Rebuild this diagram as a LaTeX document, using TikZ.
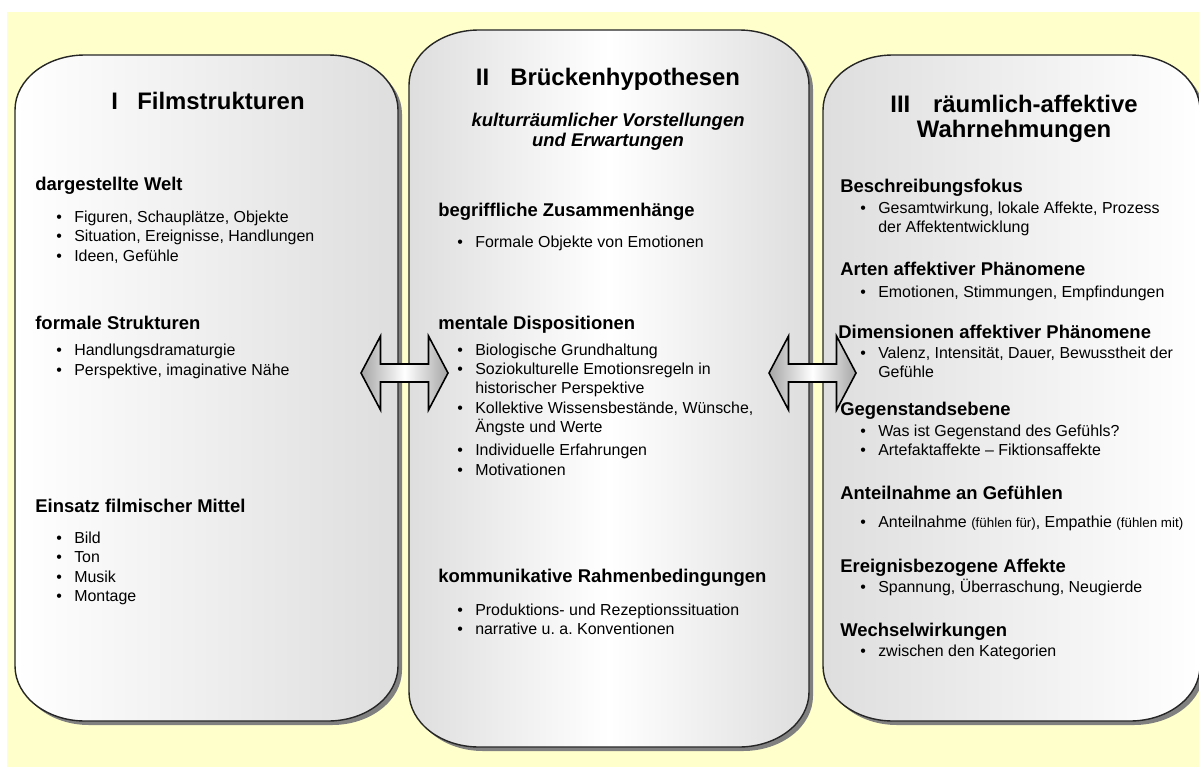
\documentclass[tikz,border=0pt]{standalone}
\usepackage{fontspec}
\setmainfont{Liberation Sans}
\frenchspacing
\definecolor{paper}{RGB}{255,255,204}
\colorlet{panelgrey}{black!13}

\newcommand\titlefont{\fontsize{13.6}{14.2}\selectfont\bfseries}
\newcommand\headfont{\fontsize{10.5}{12.5}\selectfont\bfseries}
\newcommand\subfont{\fontsize{10.5}{11.3}\selectfont\bfseries\itshape}
\newcommand\bodyfont{\fontsize{9.07}{11.05}\selectfont}
\newcommand\smallfont{\fontsize{7.6}{9}\selectfont}
\newcommand\bl{\makebox[10.2pt][l]{\textbullet}}
\newcommand\cont{\hspace*{10.2pt}}
\newcommand\panelpath[4]{(#1,#2+\ry) arc[start angle=180,end angle=270,x radius=\rx,y radius=\ry]
  -- (#3-\rx,#2) arc[start angle=270,end angle=360,x radius=\rx,y radius=\ry]
  -- (#3,#4-\ry) arc[start angle=0,end angle=90,x radius=\rx,y radius=\ry]
  -- (#1+\rx,#4) arc[start angle=90,end angle=180,x radius=\rx,y radius=\ry] -- cycle}

\tikzset{
  pane/.style={draw=black!85,line width=0.8pt},
  drop/.style={fill=black!50,shift={(4,4)}},
  paneltitle/.style={anchor=base,inner sep=0pt,align=center,font=\titlefont},
  subline/.style={anchor=base,inner sep=0pt,align=center,font=\subfont},
  headline/.style={anchor=base west,inner sep=0pt,font=\headfont},
  % multi-line nodes: base = baseline of the last line
  itemlist/.style={anchor=base west,inner sep=0pt,align=left,font=\bodyfont},
  twoway/.style={draw=black,line width=0.9pt,left color=black!35,right color=black!35,middle color=white}
}

\begin{document}
\begin{tikzpicture}[x=0.02cm,y=-0.02cm]
  \pgfmathsetmacro{\rx}{70};
  \pgfmathsetmacro{\ry}{55};
  %
  \useasboundingbox (0,0) rectangle (1199,767);
  \fill[paper] (7,12) rectangle (1199,767);
  % panels
  \fill[drop] \panelpath{15}{55}{398}{721};
  \draw[pane,left color=white,right color=panelgrey] \panelpath{15}{55}{398}{721};
  \fill[drop] \panelpath{409}{30}{809}{747};
  \draw[pane,left color=panelgrey,right color=panelgrey,middle color=white] \panelpath{409}{30}{809}{747};
  \fill[drop] \panelpath{823}{55}{1200}{721};
  \draw[pane,left color=panelgrey,right color=white] \panelpath{823}{55}{1200}{721};
  % titles
  \node[paneltitle] (titleI) at (208,110) {I\hspace{11pt}Filmstrukturen};
  \node[paneltitle] (titleII) at (608,86) {II\hspace{12pt}Brückenhypothesen};
  \node[subline] (subII) at (608,146) {kulturräumlicher Vorstellungen\\und Erwartungen};
  \node[paneltitle] (titleIII) at (1014,137) {III\hspace{13pt}räumlich-affektive\\Wahrnehmungen};
  % I
  \node[headline] (weltH) at (35,190) {dargestellte Welt};
  \node[itemlist] (weltL) at (56,261) {\bl Figuren, Schauplätze, Objekte\\\bl Situation, Ereignisse, Handlungen\\\bl Ideen, Gefühle};
  \node[headline] (formH) at (35,329) {formale Strukturen};
  \node[itemlist] (formL) at (56,375) {\bl Handlungsdramaturgie\\\bl Perspektive, imaginative Nähe};
  \node[headline] (mittelH) at (35,512) {Einsatz filmischer Mittel};
  \node[itemlist] (mittelL) at (56,601.5) {\bl Bild\\\bl Ton\\\bl Musik\\\bl Montage};
  % II
  \node[headline] (begrH) at (438,216) {begriffliche Zusammenhänge};
  \node[itemlist] (begrL) at (457,247) {\bl Formale Objekte von Emotionen};
  \node[headline] (mentH) at (438,329) {mentale Dispositionen};
  \node[itemlist] (mentL) at (457,475) {\bl Biologische Grundhaltung\\\bl Soziokulturelle Emotionsregeln in\\\cont historischer Perspektive\\\bl Kollektive Wissensbestände, Wünsche,\\\cont Ängste und Werte\\[2pt]\bl Individuelle Erfahrungen\\\bl Motivationen};
  \node[headline] (kommH) at (438,582) {kommunikative Rahmenbedingungen};
  \node[itemlist] (kommL) at (457,634.5) {\bl Produktions- und Rezeptionssituation\\\bl narrative u. a. Konventionen};
  % III
  \node[headline] (fokusH) at (840,192) {Beschreibungsfokus};
  \node[itemlist] (fokusL) at (860,232.5) {\bl Gesamtwirkung, lokale Affekte, Prozess\\\cont der Affektentwicklung};
  \node[headline] (artenH) at (840,275) {Arten affektiver Phänomene};
  \node[itemlist] (artenL) at (860,297) {\bl Emotionen, Stimmungen, Empfindungen};
  \node[headline] (dimH) at (838,338) {Dimensionen affektiver Phänomene};
  \node[itemlist] (dimL) at (860,377.5) {\bl Valenz, Intensität, Dauer, Bewusstheit der\\\cont Gefühle};
  \node[headline] (gegH) at (840,415) {Gegenstandsebene};
  \node[itemlist] (gegL) at (860,455.5) {\bl Was ist Gegenstand des Gefühls?\\\bl Artefaktaffekte – Fiktionsaffekte};
  \node[headline] (anteilH) at (840,499) {Anteilnahme an Gefühlen};
  \node[itemlist] (anteilL) at (860,527) {\bl Anteilnahme {\smallfont(fühlen für)}, Empathie {\smallfont(fühlen mit)}};
  \node[headline] (ereigH) at (840,572) {Ereignisbezogene Affekte};
  \node[itemlist] (ereigL) at (860,592) {\bl Spannung, Überraschung, Neugierde};
  \node[headline] (wechselH) at (840,636) {Wechselwirkungen};
  \node[itemlist] (wechselL) at (860,656) {\bl zwischen den Kategorien};
  % double arrows
  \coordinate (arrL) at (404.5,373);
  \coordinate (arrR) at (812.5,373);
  \draw[twoway,shift={(arrL)}] (-43.5,0) -- (-24,-37) -- (-24,-9) -- (24,-9) -- (24,-37) -- (43.5,0)
    -- (24,37) -- (24,9) -- (-24,9) -- (-24,37) -- cycle;
  \draw[twoway,shift={(arrR)}] (-43.5,0) -- (-24,-37) -- (-24,-9) -- (24,-9) -- (24,-37) -- (43.5,0)
    -- (24,37) -- (24,9) -- (-24,9) -- (-24,37) -- cycle;
\end{tikzpicture}
\end{document}
